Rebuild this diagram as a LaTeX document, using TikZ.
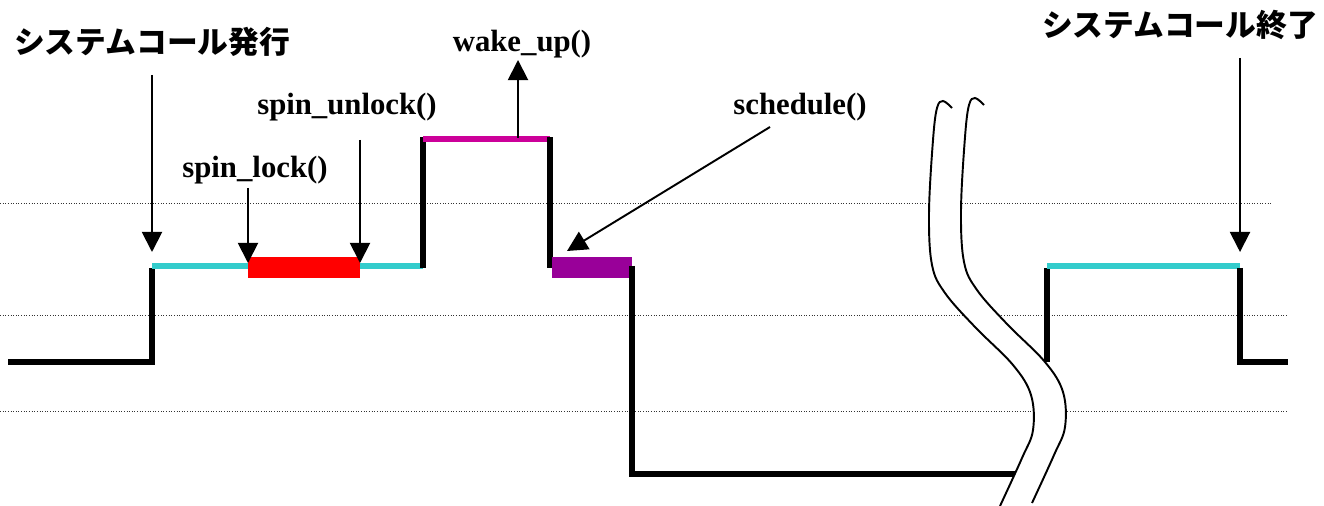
\documentclass[tikz,border=0pt]{standalone}
\usepackage{fontspec}
\setmainfont{Liberation Serif}
\newfontfamily\jpfont{Noto Sans CJK JP}[BoldFont={Noto Sans CJK JP Black}]
\usetikzlibrary{arrows.meta}
\definecolor{runcyan}{HTML}{33CCCC}
\definecolor{lockred}{HTML}{FF0000}
\definecolor{wakepink}{HTML}{CC0099}
\definecolor{schedpurple}{HTML}{990099}
\tikzset{
  level/.style={line width=3.8pt, color=#1},
  level/.default=black,
  holdbar/.style={fill=#1, draw=none},
  callarrow/.style={-{Triangle[length=11.5pt,width=11.5pt]}, line width=1.1pt},
  guide/.style={densely dotted, line width=0.5pt, color=black!80},
  cutline/.style={line width=1.1pt},
  fnlabel/.style={font=\bfseries\fontsize{17.5}{20}\selectfont},
  jplabel/.style={font=\jpfont\bfseries\fontsize{17.5}{20}\selectfont},
}

\begin{document}
\begin{tikzpicture}[x=0.02cm, y=-0.02cm]
\useasboundingbox (0,0) rectangle (1324,506);

% horizontal guide levels
\draw[guide] (0,203) -- (1272,203);
\draw[guide] (0,315) -- (1288,315);
\draw[guide] (0,411) -- (1288,411);

% corner points of the trace
\coordinate (idle) at (8,362);
\coordinate (enter) at (152,362);
\coordinate (kern) at (152,266);
\coordinate (kernB) at (423,266);
\coordinate (wake) at (423,139);
\coordinate (wakeB) at (550,139);
\coordinate (sched) at (632,266);
\coordinate (sleep) at (632,474);
\coordinate (sleepB) at (1015,474);
\coordinate (back) at (1047,266);
\coordinate (backLow) at (1047,362);
\coordinate (leave) at (1240,266);
\coordinate (leaveLow) at (1240,362);
\coordinate (user) at (1288,362);

% trace before the gap
\draw[level] (idle) -- (enter) -- ([yshift=-1]kern);
\draw[level=runcyan] (kern) -- (kernB);
\fill[holdbar=lockred] (248,257) rectangle (360,278);
\draw[level] ([yshift=-1]kernB) -- ([yshift=1]wake);
\draw[level=wakepink] (wake) -- (wakeB);
\draw[level] ([yshift=1]wakeB) -- (550,268);
\fill[holdbar=schedpurple] (552,257) rectangle (632,278);
\draw[level] (sched) -- (sleep) -- (sleepB);

% trace after the gap
\draw[level] (backLow) -- ([yshift=-1]back);
\draw[level=runcyan] (back) -- (leave);
\draw[level] ([yshift=-1]leave) -- (leaveLow) -- (user);

% time break
\fill[white] plot[smooth, tension=0.6] coordinates {(952,108) (943,101) (937,108) (933,140) (929,213) (932,265) (945,293) (975,327) (1013,365) (1031,395) (1033,430) (1022,458) (1000,506)}
  -- plot[smooth, tension=0.6] coordinates {(1032,503) (1054,455) (1065,427) (1063,392) (1045,362) (1007,324) (977,290) (964,262) (961,210) (965,137) (969,105) (975,98) (984,105)} -- cycle;
\draw[cutline] plot[smooth, tension=0.6] coordinates {(952,108) (943,101) (937,108) (933,140) (929,213) (932,265) (945,293) (975,327) (1013,365) (1031,395) (1033,430) (1022,458) (1000,506)};
\draw[cutline] plot[smooth, tension=0.6] coordinates {(984,105) (975,98) (969,105) (965,137) (961,210) (964,262) (977,290) (1007,324) (1045,362) (1063,392) (1065,427) (1054,455) (1032,503)};

% labels
\node[jplabel, anchor=west] (issueLbl) at (8,42) {システムコール発行};
\node[jplabel, anchor=east] (endLbl) at (1324,25) {システムコール終了};
\node[fnlabel] (unlockLbl) at (347,107) {spin\_unlock()};
\node[fnlabel] (lockLbl) at (255,170) {spin\_lock()};
\node[fnlabel] (wakeLbl) at (522,44) {wake\_up()};
\node[fnlabel] (schedLbl) at (800,107) {schedule()};

% arrow ends
\coordinate (issueTop) at (152,75);
\coordinate (issueTip) at (152,252);
\coordinate (lockTop) at (248,188);
\coordinate (lockTip) at (248,263);
\coordinate (unlockTop) at (360,140);
\coordinate (unlockTip) at (360,263);
\coordinate (wakeFoot) at (518,138);
\coordinate (wakeTip) at (518,60);
\coordinate (schedTop) at (770,127);
\coordinate (schedTip) at (567,251);
\coordinate (endTop) at (1240,58);
\coordinate (endTip) at (1240,252);

\draw[callarrow] (issueTop) -- (issueTip);
\draw[callarrow] (lockTop) -- (lockTip);
\draw[callarrow] (unlockTop) -- (unlockTip);
\draw[callarrow] (wakeFoot) -- (wakeTip);
\draw[callarrow] (schedTop) -- (schedTip);
\draw[callarrow] (endTop) -- (endTip);

\end{tikzpicture}
\end{document}
